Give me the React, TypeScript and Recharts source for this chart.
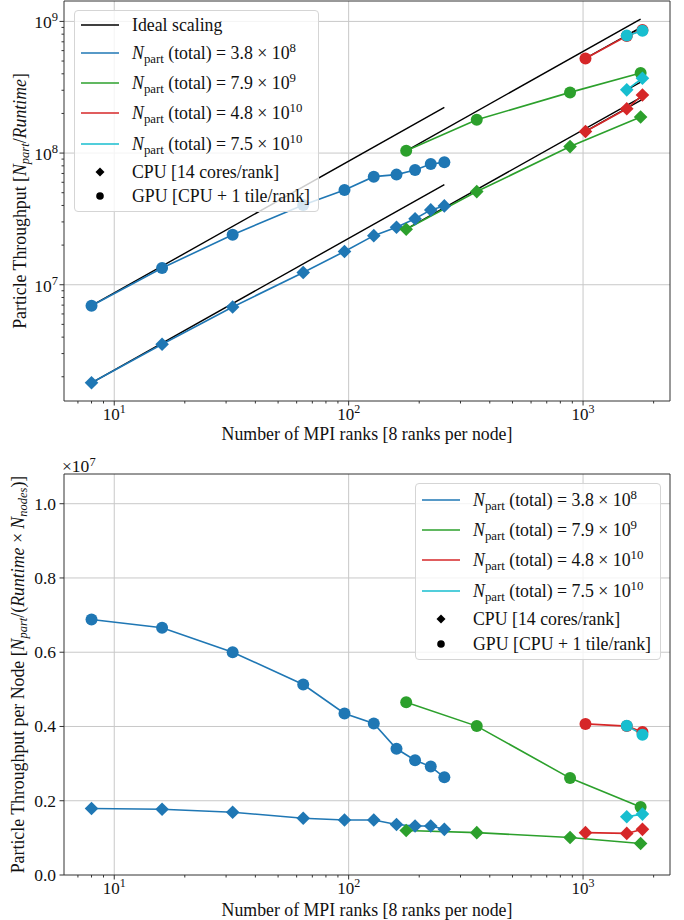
import React from 'react';
import {
  ComposedChart,
  Line,
  XAxis,
  YAxis,
  CartesianGrid,
  ReferenceArea,
} from 'recharts';

const FONT = '"Liberation Serif", "DejaVu Serif", serif';
const BLUE = '#1f77b4';
const GREEN = '#2ca02c';
const RED = '#d62728';
const CYAN = '#17becf';
const SPINE = '#333333';

// MPI ranks of each run
const ranksBlue = [8, 16, 32, 64, 96, 128, 160, 192, 224, 256];
const ranksGreen = [176, 352, 880, 1760];
const ranksRed = [1024, 1536, 1792];
const ranksCyan = [1536, 1792];

// particle throughput [N_part / Runtime]
const blueGpu = [6.93e6, 1.34e7, 2.4e7, 4.04e7, 5.25e7, 6.62e7, 6.86e7, 7.44e7, 8.26e7, 8.5e7];
const blueCpu = [1.8e6, 3.53e6, 6.78e6, 1.24e7, 1.79e7, 2.36e7, 2.73e7, 3.17e7, 3.7e7, 3.97e7];
const greenGpu = [1.04e8, 1.79e8, 2.89e8, 4.05e8];
const greenCpu = [2.64e7, 5.1e7, 1.12e8, 1.88e8];
const redGpu = [5.23e8, 7.75e8, 8.6e8];
const redCpu = [1.46e8, 2.17e8, 2.76e8];
const cyanGpu = [7.8e8, 8.5e8];
const cyanCpu = [3.02e8, 3.7e8];

// throughput per node, in units of 1e7
const blueGpuNode = [0.688, 0.666, 0.6, 0.513, 0.435, 0.408, 0.34, 0.309, 0.292, 0.263];
const blueCpuNode = [0.179, 0.177, 0.169, 0.153, 0.148, 0.148, 0.136, 0.132, 0.132, 0.123];
const greenGpuNode = [0.465, 0.401, 0.261, 0.183];
const greenCpuNode = [0.12, 0.114, 0.101, 0.085];
const redGpuNode = [0.407, 0.401, 0.385];
const redCpuNode = [0.114, 0.112, 0.123];
const cyanGpuNode = [0.402, 0.378];
const cyanCpuNode = [0.157, 0.164];

// ideal scaling segments (start / end)
const idealRanksStart = [8, 8, 176, 176, 1024, 1024, 1536, 1536];
const idealRanksEnd = [256, 256, 1760, 1760, 1792, 1792, 1792, 1792];
const idealStart = [6.93e6, 1.8e6, 1.04e8, 2.64e7, 5.23e8, 1.46e8, 7.8e8, 3.02e8];
const idealEnd = [2.22e8, 5.76e7, 1.04e9, 2.64e8, 9.15e8, 2.56e8, 9.1e8, 3.52e8];

// legend text
const legendMantissa = ['3.8', '7.9', '4.8', '7.5'];
const legendExponent = ['8', '9', '10', '10'];
const legendColors = [BLUE, GREEN, RED, CYAN];

// axes
const X_DOMAIN = [6.105, 2349];
const X_TICKS = [7, 8, 9, 10, 20, 30, 40, 50, 60, 70, 80, 90, 100, 200, 300, 400, 500, 600, 700, 800, 900, 1000, 2000];
const Y_TOP_DOMAIN = [1.309e6, 1.429e9];
const Y_TOP_TICKS = [
  2e6, 3e6, 4e6, 5e6, 6e6, 7e6, 8e6, 9e6, 1e7,
  2e7, 3e7, 4e7, 5e7, 6e7, 7e7, 8e7, 9e7, 1e8,
  2e8, 3e8, 4e8, 5e8, 6e8, 7e8, 8e8, 9e8, 1e9,
];
const Y_BOT_DOMAIN = [0, 1.08];
const Y_BOT_TICKS = [0, 0.2, 0.4, 0.6, 0.8, 1.0];

const pts = (xs: number[], ys: number[]) => xs.map((x, i) => ({ x, y: ys[i] }));

const isMajor = (v: number) => {
  const e = Math.round(Math.log10(v));
  return Math.abs(v / Math.pow(10, e) - 1) < 1e-6;
};

const circleDot = (color: string) => (p: any) => {
  if (p.cx == null || p.cy == null) return <g key={`c${p.index}`} />;
  return <circle key={`c${p.index}`} cx={p.cx} cy={p.cy} r={6} fill={color} />;
};

const diamondDot = (color: string) => (p: any) => {
  if (p.cx == null || p.cy == null) return <g key={`d${p.index}`} />;
  const s = 6.8;
  return (
    <path
      key={`d${p.index}`}
      d={`M${p.cx},${p.cy - s}L${p.cx + s},${p.cy}L${p.cx},${p.cy + s}L${p.cx - s},${p.cy}Z`}
      fill={color}
    />
  );
};

const XTick = (props: any) => {
  const { x, y, payload } = props;
  const v = payload.value;
  const major = isMajor(v);
  return (
    <g>
      <line x1={x} x2={x} y1={y} y2={y + (major ? 4.5 : 2.5)} stroke={SPINE} strokeWidth={1} />
      {major && (
        <text x={x} y={y + 19} textAnchor="middle" fontFamily={FONT} fontSize={17} fill="#111">
          10<tspan dy={-7} fontSize={12}>{Math.round(Math.log10(v))}</tspan>
        </text>
      )}
    </g>
  );
};

const YLogTick = (props: any) => {
  const { x, y, payload } = props;
  const v = payload.value;
  const major = isMajor(v);
  return (
    <g>
      <line x1={x} x2={x - (major ? 4.5 : 2.5)} y1={y} y2={y} stroke={SPINE} strokeWidth={1} />
      {major && (
        <text x={x - 6} y={y + 7} textAnchor="end" fontFamily={FONT} fontSize={17.5} fill="#111">
          10<tspan dy={-7} fontSize={12.5}>{Math.round(Math.log10(v))}</tspan>
        </text>
      )}
    </g>
  );
};

const YLinTick = (props: any) => {
  const { x, y, payload } = props;
  return (
    <g>
      <line x1={x} x2={x - 4.5} y1={y} y2={y} stroke={SPINE} strokeWidth={1} />
      <text x={x - 8} y={y + 6} textAnchor="end" fontFamily={FONT} fontSize={17.5} fill="#111">
        {payload.value.toFixed(1)}
      </text>
    </g>
  );
};

type Series = { xs: number[]; ys: number[]; color: string; marker: 'o' | 'D' };

const topSeries: Series[] = [
  { xs: ranksBlue, ys: blueGpu, color: BLUE, marker: 'o' },
  { xs: ranksBlue, ys: blueCpu, color: BLUE, marker: 'D' },
  { xs: ranksGreen, ys: greenGpu, color: GREEN, marker: 'o' },
  { xs: ranksGreen, ys: greenCpu, color: GREEN, marker: 'D' },
  { xs: ranksRed, ys: redGpu, color: RED, marker: 'o' },
  { xs: ranksRed, ys: redCpu, color: RED, marker: 'D' },
  { xs: ranksCyan, ys: cyanGpu, color: CYAN, marker: 'o' },
  { xs: ranksCyan, ys: cyanCpu, color: CYAN, marker: 'D' },
];

const bottomSeries: Series[] = [
  { xs: ranksBlue, ys: blueGpuNode, color: BLUE, marker: 'o' },
  { xs: ranksBlue, ys: blueCpuNode, color: BLUE, marker: 'D' },
  { xs: ranksGreen, ys: greenGpuNode, color: GREEN, marker: 'o' },
  { xs: ranksGreen, ys: greenCpuNode, color: GREEN, marker: 'D' },
  { xs: ranksRed, ys: redGpuNode, color: RED, marker: 'o' },
  { xs: ranksRed, ys: redCpuNode, color: RED, marker: 'D' },
  { xs: ranksCyan, ys: cyanGpuNode, color: CYAN, marker: 'o' },
  { xs: ranksCyan, ys: cyanCpuNode, color: CYAN, marker: 'D' },
];

const renderSeries = (list: Series[], prefix: string) =>
  list.map((s, i) => (
    <Line
      key={`${prefix}${i}`}
      data={pts(s.xs, s.ys)}
      dataKey="y"
      stroke={s.color}
      strokeWidth={1.6}
      dot={s.marker === 'o' ? circleDot(s.color) : diamondDot(s.color)}
      activeDot={false}
      isAnimationActive={false}
    />
  ));

const NPart = () => (
  <>
    <i>N</i>
    <span style={{ fontSize: '0.72em', position: 'relative', top: 4 }}>part</span>
  </>
);

type Row = { cy: number; kind: 'ideal' | 'series' | 'cpu' | 'gpu'; idx?: number };

const LegendBox = ({ left, top, width, height, rows }: { left: number; top: number; width: number; height: number; rows: Row[] }) => (
  <div
    style={{
      position: 'absolute',
      left,
      top,
      width,
      height,
      border: '1px solid #d5d5d5',
      borderRadius: 4,
      background: 'rgba(255,255,255,0.8)',
      fontFamily: FONT,
      fontSize: 17.8,
      color: '#111',
      boxSizing: 'border-box',
    }}
  >
    {rows.map((r, k) => (
      <div key={k} style={{ position: 'absolute', left: 0, top: r.cy - 13, height: 26, width: '100%' }}>
        <svg width={50} height={26} style={{ position: 'absolute', left: 0, top: 0 }}>
          {r.kind === 'ideal' && <line x1={6} x2={44} y1={13} y2={13} stroke="#000" strokeWidth={1.5} />}
          {r.kind === 'series' && (
            <line x1={6} x2={44} y1={13} y2={13} stroke={legendColors[r.idx ?? 0]} strokeWidth={1.6} />
          )}
          {r.kind === 'cpu' && <path d="M25,8.5L29.5,13L25,17.5L20.5,13Z" fill="#000" />}
          {r.kind === 'gpu' && <circle cx={25} cy={13} r={3.8} fill="#000" />}
        </svg>
        <div style={{ position: 'absolute', left: 57, top: 0, lineHeight: '26px', whiteSpace: 'nowrap' }}>
          {r.kind === 'ideal' && 'Ideal scaling'}
          {r.kind === 'series' && (
            <>
              <NPart /> (total) = {legendMantissa[r.idx ?? 0]} × 10
              <span style={{ fontSize: '0.72em', position: 'relative', top: -7 }}>{legendExponent[r.idx ?? 0]}</span>
            </>
          )}
          {r.kind === 'cpu' && 'CPU [14 cores/rank]'}
          {r.kind === 'gpu' && 'GPU [CPU + 1 tile/rank]'}
        </div>
      </div>
    ))}
  </div>
);

const topRows: Row[] = [
  { cy: 14.3, kind: 'ideal' },
  { cy: 42.3, kind: 'series', idx: 0 },
  { cy: 71.7, kind: 'series', idx: 1 },
  { cy: 101.7, kind: 'series', idx: 2 },
  { cy: 132.7, kind: 'series', idx: 3 },
  { cy: 160.7, kind: 'cpu' },
  { cy: 185, kind: 'gpu' },
];

const bottomRows: Row[] = [
  { cy: 16, kind: 'series', idx: 0 },
  { cy: 46, kind: 'series', idx: 1 },
  { cy: 76, kind: 'series', idx: 2 },
  { cy: 106.7, kind: 'series', idx: 3 },
  { cy: 135, kind: 'cpu' },
  { cy: 160, kind: 'gpu' },
];

const W = 684;
const H = 460;

const overlayStyle: React.CSSProperties = {
  position: 'absolute',
  left: 0,
  top: 0,
  pointerEvents: 'none',
  overflow: 'visible',
};

const TopChart = () => (
  <div style={{ position: 'absolute', left: 0, top: 0, width: W, height: H }}>
    <ComposedChart width={W} height={H} margin={{ top: 1, right: 14, bottom: 0, left: 0 }}>
      <CartesianGrid
        stroke="#c8c8c8"
        strokeWidth={1}
        verticalValues={[10, 100, 1000]}
        horizontalValues={[1e7, 1e8, 1e9]}
      />
      <XAxis
        dataKey="x"
        type="number"
        scale="log"
        domain={X_DOMAIN}
        allowDataOverflow
        ticks={X_TICKS}
        interval={0}
        tick={<XTick />}
        tickLine={false}
        axisLine={false}
        tickSize={0}
        tickMargin={0}
        height={59}
      />
      <YAxis
        type="number"
        scale="log"
        domain={Y_TOP_DOMAIN}
        allowDataOverflow
        ticks={Y_TOP_TICKS}
        interval={0}
        tick={<YLogTick />}
        tickLine={false}
        axisLine={false}
        tickSize={0}
        tickMargin={0}
        width={64}
      />
      {idealStart.map((v, i) => (
        <Line
          key={`ideal${i}`}
          data={[
            { x: idealRanksStart[i], y: v },
            { x: idealRanksEnd[i], y: idealEnd[i] },
          ]}
          dataKey="y"
          stroke="#000"
          strokeWidth={1.4}
          dot={false}
          activeDot={false}
          isAnimationActive={false}
        />
      ))}
      {renderSeries(topSeries, 'top')}
      <ReferenceArea
        x1={X_DOMAIN[0]}
        x2={X_DOMAIN[1]}
        y1={Y_TOP_DOMAIN[0]}
        y2={Y_TOP_DOMAIN[1]}
        fill="none"
        stroke={SPINE}
        strokeWidth={1}
        ifOverflow="visible"
      />
    </ComposedChart>
    <svg width={W} height={H} style={overlayStyle}>
      <text x={367} y={440} textAnchor="middle" fontFamily={FONT} fontSize={17.8} fill="#111">
        Number of MPI ranks [8 ranks per node]
      </text>
      <text
        x={22}
        y={201}
        transform="rotate(-90, 22, 201)"
        textAnchor="middle"
        dominantBaseline="middle"
        fontFamily={FONT}
        fontSize={17.8}
        fill="#111"
      >
        Particle Throughput [<tspan fontStyle="italic">N</tspan>
        <tspan fontStyle="italic" fontSize={12.5} dy={4}>part</tspan>
        <tspan dy={-4}>/</tspan>
        <tspan fontStyle="italic">Runtime</tspan>]
      </text>
    </svg>
    <LegendBox left={74} top={10} width={245} height={202} rows={topRows} />
  </div>
);

const BottomChart = () => (
  <div style={{ position: 'absolute', left: 0, top: H, width: W, height: H }}>
    <ComposedChart width={W} height={H} margin={{ top: 14, right: 14, bottom: 0, left: 0 }}>
      <CartesianGrid
        stroke="#c8c8c8"
        strokeWidth={1}
        verticalValues={[10, 100, 1000]}
        horizontalValues={[0.2, 0.4, 0.6, 0.8, 1.0]}
      />
      <XAxis
        dataKey="x"
        type="number"
        scale="log"
        domain={X_DOMAIN}
        allowDataOverflow
        ticks={X_TICKS}
        interval={0}
        tick={<XTick />}
        tickLine={false}
        axisLine={false}
        tickSize={0}
        tickMargin={0}
        height={45}
      />
      <YAxis
        type="number"
        domain={Y_BOT_DOMAIN}
        allowDataOverflow
        ticks={Y_BOT_TICKS}
        interval={0}
        tick={<YLinTick />}
        tickLine={false}
        axisLine={false}
        tickSize={0}
        tickMargin={0}
        width={64}
      />
      {renderSeries(bottomSeries, 'bot')}
      <ReferenceArea
        x1={X_DOMAIN[0]}
        x2={X_DOMAIN[1]}
        y1={Y_BOT_DOMAIN[0]}
        y2={Y_BOT_DOMAIN[1]}
        fill="none"
        stroke={SPINE}
        strokeWidth={1}
        ifOverflow="visible"
      />
    </ComposedChart>
    <svg width={W} height={H} style={overlayStyle}>
      <text x={62} y={12} fontFamily={FONT} fontSize={17.5} fill="#111">
        ×10<tspan dy={-6} fontSize={12.5}>7</tspan>
      </text>
      <text x={367} y={456} textAnchor="middle" fontFamily={FONT} fontSize={17.8} fill="#111">
        Number of MPI ranks [8 ranks per node]
      </text>
      <text
        x={20}
        y={214.5}
        transform="rotate(-90, 20, 214.5)"
        textAnchor="middle"
        dominantBaseline="middle"
        fontFamily={FONT}
        fontSize={17.8}
        fill="#111"
      >
        Particle Throughput per Node [<tspan fontStyle="italic">N</tspan>
        <tspan fontStyle="italic" fontSize={12.5} dy={4}>part</tspan>
        <tspan dy={-4}>/(</tspan>
        <tspan fontStyle="italic">Runtime</tspan> × <tspan fontStyle="italic">N</tspan>
        <tspan fontStyle="italic" fontSize={12.5} dy={4}>nodes</tspan>
        <tspan dy={-4}>)]</tspan>
      </text>
    </svg>
    <LegendBox left={415} top={23} width={246} height={177} rows={bottomRows} />
  </div>
);

export default function App() {
  return (
    <div style={{ position: 'absolute', left: 0, top: 0, width: W, height: 920, background: '#fff' }}>
      <TopChart />
      <BottomChart />
    </div>
  );
}
